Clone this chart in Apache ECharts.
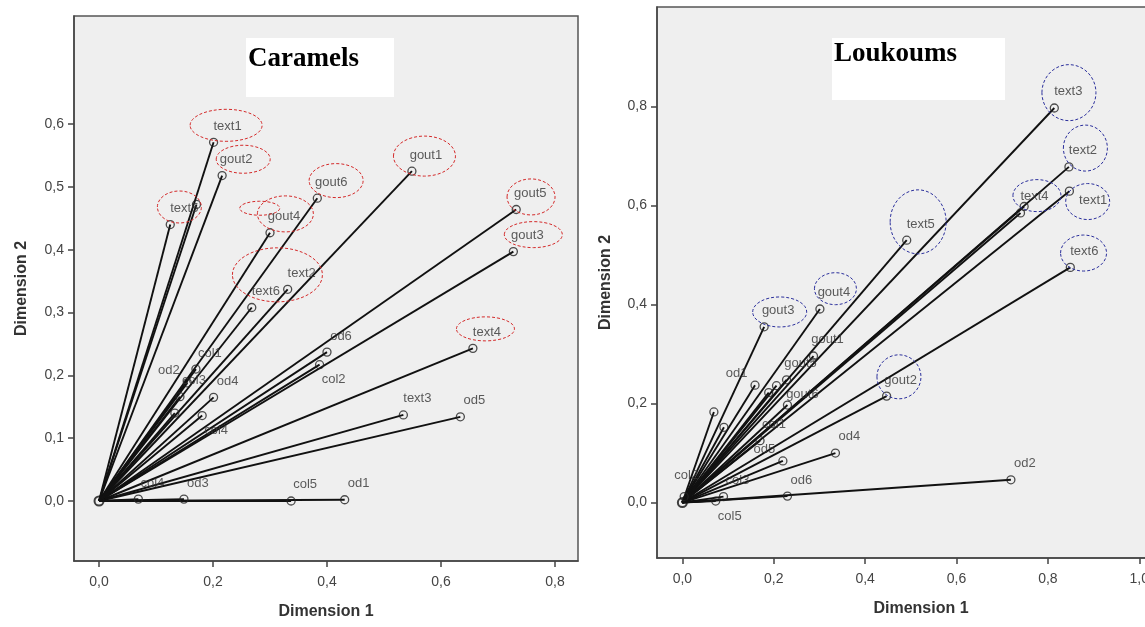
<!DOCTYPE html>
<html><head><meta charset="utf-8">
<script src="https://cdn.jsdelivr.net/npm/echarts@6/dist/echarts.min.js"></script>
<style>html,body{margin:0;padding:0;background:#fff;overflow:hidden;width:1145px;height:627px}#c{width:1200px;height:627px}</style>
</head><body><div id="c"></div>
<script>
// ---------- Caramels (left) ----------
const caramelNames = ['text1','gout2','','text5','gout6','gout4','gout1','gout5','gout3','text2','text6','text4','od6','col2','text3','od5','od1','col5','od3','col4','col1','od2','col3','','col4','od4'];
const caramelDim1 = [0.201,0.216,0.171,0.125,0.383,0.300,0.549,0.732,0.727,0.331,0.268,0.656,0.400,0.387,0.534,0.634,0.431,0.337,0.149,0.069,0.170,0.155,0.142,0.133,0.181,0.201];
const caramelDim2 = [0.571,0.518,0.472,0.440,0.482,0.427,0.525,0.464,0.397,0.337,0.308,0.243,0.237,0.217,0.137,0.134,0.002,0.000,0.003,0.003,0.210,0.188,0.166,0.140,0.136,0.165];
const caramelXTicks = [0, 0.2, 0.4, 0.6, 0.8];
const caramelYTicks = [0, 0.1, 0.2, 0.3, 0.4, 0.5, 0.6];
// highlighted labels (ring centres)
const caramelRingDim1 = [0.223,0.253,0.141,0.282,0.327,0.416,0.571,0.758,0.762,0.313,0.678];
const caramelRingDim2 = [0.598,0.544,0.468,0.466,0.457,0.510,0.549,0.484,0.424,0.360,0.274];

// ---------- Loukoums (right) ----------
const loukNames = ['text3','text2','text1','text4','','text5','text6','gout4','gout3','gout2','gout1','gout5','od1','gout6','','','','','col1','od5','od4','od2','od6','col3','col5','col2'];
const loukDim1 = [0.814,0.846,0.847,0.740,0.748,0.491,0.849,0.301,0.179,0.447,0.287,0.228,0.159,0.206,0.189,0.230,0.069,0.091,0.170,0.220,0.335,0.719,0.230,0.090,0.073,0.004];
const loukDim2 = [0.797,0.678,0.629,0.585,0.598,0.530,0.475,0.391,0.355,0.215,0.296,0.248,0.237,0.236,0.222,0.197,0.183,0.152,0.125,0.084,0.100,0.046,0.013,0.012,0.003,0.012];
const loukXTicks = [0, 0.2, 0.4, 0.6, 0.8, 1.0];
const loukYTicks = [0, 0.2, 0.4, 0.6, 0.8];
const loukRingDim1 = [0.846,0.882,0.776,0.887,0.516,0.878,0.335,0.213,0.474];
const loukRingDim2 = [0.828,0.716,0.620,0.608,0.567,0.504,0.432,0.385,0.254];

// ---------- presentation (sizes / placements) ----------
const caramelRingRx = [36,27,22,20,28,27,31,24,29,45,29];
const caramelRingRy = [16,14,16,7,18,17,20,18,13,27,12];
const loukRingRx = [27,22,24,22,28,23,21,27,22];
const loukRingRy = [28,23,16,18,32,18,16,15,22];
const caramelLabelSide = {21:'left', 13:'below', 24:'below'};
const loukLabelSide = {12:'left', 2:'right', 19:'left', 24:'below', 25:'up', 13:'right'};

const FONT = 'Liberation Sans, Arial, sans-serif';
const fmt = v => v.toFixed(1).replace('.', ',');

function labelFor(side) {
  switch (side) {
    case 'left': return {position:'left', distance:3, offset:[0,-12]};
    case 'below': return {position:'bottom', distance:4, offset:[14,0]};
    case 'right': return {position:'right', distance:5, offset:[0,9]};
    case 'up': return {position:'top', distance:10, offset:[2,0]};
    default: return {position:'top', distance:5, offset:[14,0]};
  }
}
function pointData(names, d1, d2, sides) {
  return names.map((n, i) => ({name:n, value:[d1[i], d2[i]], label: labelFor(sides[i])}));
}
function vecData(d1, d2) { return d1.map((x, i) => [x, d2[i]]); }
function ringData(d1, d2, rx, ry) { return d1.map((x, i) => [x, d2[i], rx[i], ry[i]]); }

function vectorSeries(idx, data) {
  return {
    type:'custom', xAxisIndex:idx, yAxisIndex:idx, z:2, silent:true,
    data: data, encode:{x:0, y:1},
    renderItem: (params, api) => {
      const p0 = api.coord([0, 0]);
      const p1 = api.coord([api.value(0), api.value(1)]);
      return {type:'line', shape:{x1:p0[0], y1:p0[1], x2:p1[0], y2:p1[1]},
              style:{stroke:'#111', lineWidth:1.9}};
    }
  };
}
function ringSeries(idx, data, color) {
  return {
    type:'custom', xAxisIndex:idx, yAxisIndex:idx, z:5, silent:true, clip:false,
    data: data, encode:{x:0, y:1},
    renderItem: (params, api) => {
      const c = api.coord([api.value(0), api.value(1)]);
      return {type:'ellipse', shape:{cx:c[0], cy:c[1], rx:api.value(2), ry:api.value(3)},
              style:{fill:null, stroke:color, lineWidth:1, lineDash:[3,2]}};
    }
  };
}
function pointSeries(idx, data) {
  return {
    type:'scatter', xAxisIndex:idx, yAxisIndex:idx, z:4, silent:true,
    symbol:'circle', symbolSize:8,
    itemStyle:{color:'rgba(0,0,0,0)', borderColor:'#222', borderWidth:1.3},
    label:{show:true, formatter:p => p.name, color:'#333', fontSize:13, fontFamily:FONT},
    data: data
  };
}
function originSeries(idx) {
  return {
    type:'scatter', xAxisIndex:idx, yAxisIndex:idx, z:4, silent:true,
    symbol:'circle', symbolSize:9,
    itemStyle:{color:'rgba(0,0,0,0)', borderColor:'#111', borderWidth:2},
    data:[[0,0]]
  };
}
function xAxis(idx, min, max, ticks) {
  return {
    gridIndex:idx, type:'value', min:min, max:max,
    axisLine:{show:true, onZero:false, lineStyle:{color:'#444', width:1.5}},
    axisTick:{show:true, customValues:ticks, length:6, lineStyle:{color:'#444', width:1.5}},
    axisLabel:{customValues:ticks, formatter:fmt, color:'#444', fontSize:14, fontFamily:FONT, margin:14},
    splitLine:{show:false},
    name:'Dimension 1', nameLocation:'middle', nameGap:43,
    nameTextStyle:{fontWeight:'bold', fontSize:16, color:'#333', fontFamily:FONT}
  };
}
function yAxis(idx, min, max, ticks, gap) {
  return {
    gridIndex:idx, type:'value', min:min, max:max,
    axisLine:{show:true, onZero:false, lineStyle:{color:'#444', width:1.5}},
    axisTick:{show:true, customValues:ticks, length:6, lineStyle:{color:'#444', width:1.5}},
    axisLabel:{customValues:ticks, formatter:fmt, color:'#444', fontSize:14, fontFamily:FONT, margin:10},
    splitLine:{show:false},
    name:'Dimension 2', nameLocation:'middle', nameGap:gap,
    nameTextStyle:{fontWeight:'bold', fontSize:16, color:'#333', fontFamily:FONT}
  };
}
function titleBox(x, y, w, h, text, padTop) {
  return {type:'group', left:x, top:y, z:10, children:[
    {type:'rect', shape:{x:0, y:0, width:w, height:h}, style:{fill:'#fff'}},
    {type:'text', x:2, y:padTop, style:{text:text, fill:'#000', font:'bold 27px "Liberation Serif", "Times New Roman", serif'}}
  ]};
}

const chart = echarts.init(document.getElementById('c'), null, {renderer:'canvas'});
chart.setOption({
  animation:false,
  backgroundColor:'#fff',
  grid:[
    {left:74, top:16, width:504, height:545, show:true, backgroundColor:'#efefef', borderColor:'#555', borderWidth:1.5},
    {left:657, top:7, width:528, height:551, show:true, backgroundColor:'#efefef', borderColor:'#555', borderWidth:1.5}
  ],
  xAxis:[ xAxis(0, -0.0439, 0.8404, caramelXTicks), xAxis(1, -0.0555, 1.1, loukXTicks) ],
  yAxis:[ yAxis(0, -0.0955, 0.772, caramelYTicks, 44), yAxis(1, -0.112, 1.001, loukYTicks, 43) ],
  graphic:[
    titleBox(246, 38, 148, 59, 'Caramels', 8),
    titleBox(832, 38, 173, 62, 'Loukoums', 3)
  ],
  series:[
    vectorSeries(0, vecData(caramelDim1, caramelDim2)),
    pointSeries(0, pointData(caramelNames, caramelDim1, caramelDim2, caramelLabelSide)),
    originSeries(0),
    ringSeries(0, ringData(caramelRingDim1, caramelRingDim2, caramelRingRx, caramelRingRy), '#d42a2a'),
    vectorSeries(1, vecData(loukDim1, loukDim2)),
    pointSeries(1, pointData(loukNames, loukDim1, loukDim2, loukLabelSide)),
    originSeries(1),
    ringSeries(1, ringData(loukRingDim1, loukRingDim2, loukRingRx, loukRingRy), '#2b2f9c')
  ]
});
</script></body></html>
